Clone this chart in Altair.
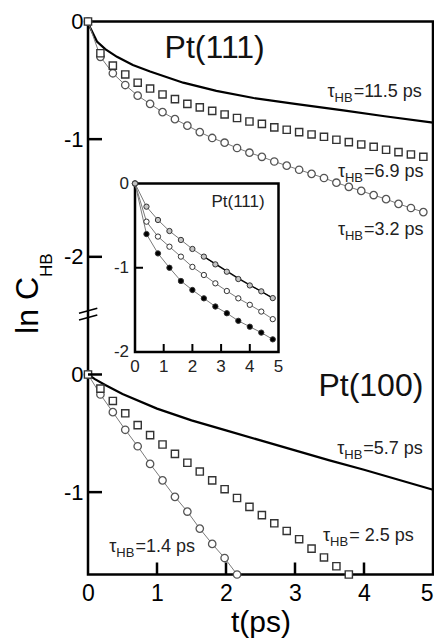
import altair as alt
import pandas as pd

# ------------------------------------------------------------------ data
# Pt(111) panel (top)
t_top = [0.00, 0.18, 0.36, 0.54, 0.72, 0.90, 1.08, 1.26, 1.44, 1.62, 1.80, 1.98, 2.16, 2.34,
         2.52, 2.70, 2.88, 3.06, 3.24, 3.42, 3.60, 3.78, 3.96, 4.14, 4.32, 4.50, 4.68, 4.86]
top_sq_69 = [0.0, -0.27, -0.375, -0.45, -0.52, -0.57, -0.62, -0.66, -0.70, -0.73, -0.76, -0.79,
             -0.82, -0.85, -0.87, -0.90, -0.92, -0.94, -0.96, -0.98, -1.005, -1.025, -1.045,
             -1.065, -1.09, -1.11, -1.13, -1.15]
top_ci_32 = [0.0, -0.30, -0.44, -0.54, -0.63, -0.70, -0.77, -0.83, -0.885, -0.94, -0.99, -1.03,
             -1.075, -1.115, -1.15, -1.19, -1.225, -1.26, -1.295, -1.33, -1.37, -1.405, -1.44,
             -1.475, -1.51, -1.55, -1.585, -1.62]
top_line_t = [0.0, 0.03, 0.08, 0.13, 0.25, 0.42, 0.65, 0.90, 1.38, 1.86, 2.40, 3.00, 3.70, 4.30, 5.00]
top_line_115 = [0.0, -0.05, -0.11, -0.17, -0.235, -0.30, -0.37, -0.425, -0.52, -0.59, -0.65, -0.70,
                -0.755, -0.805, -0.86]

# Pt(100) panel (bottom)
t_bot_sq = [0.00, 0.18, 0.36, 0.54, 0.72, 0.90, 1.08, 1.26, 1.44, 1.62, 1.80, 1.98, 2.16, 2.34,
            2.52, 2.70, 2.88, 3.06, 3.24, 3.42, 3.60, 3.78]
bot_sq_25 = [0.0, -0.12, -0.225, -0.33, -0.43, -0.515, -0.595, -0.675, -0.75, -0.825, -0.90,
             -0.975, -1.05, -1.125, -1.195, -1.265, -1.33, -1.40, -1.48, -1.555, -1.63, -1.70]
t_bot_ci = [0.00, 0.18, 0.36, 0.54, 0.72, 0.90, 1.08, 1.26, 1.44, 1.62, 1.80, 1.98, 2.16]
bot_ci_14 = [0.0, -0.17, -0.32, -0.47, -0.61, -0.76, -0.90, -1.04, -1.165, -1.31, -1.44, -1.56, -1.70]
bot_line_t = [0.0, 0.10, 0.25, 0.50, 1.00, 1.50, 2.00, 2.50, 3.00, 3.50, 4.00, 4.50, 5.00]
bot_line_57 = [0.0, -0.04, -0.09, -0.165, -0.29, -0.39, -0.475, -0.56, -0.645, -0.73, -0.81, -0.895, -0.98]

# inset (Pt(111))
inset_t = [0.0, 0.4, 0.8, 1.2, 1.6, 2.0, 2.4, 2.8, 3.2, 3.6, 4.0, 4.4, 4.8]
inset_gray = [0.0, -0.275, -0.433, -0.564, -0.67, -0.777, -0.868, -0.96, -1.047, -1.134, -1.21, -1.28, -1.36]
inset_white = [0.0, -0.453, -0.63, -0.75, -0.868, -0.99, -1.086, -1.185, -1.276, -1.363, -1.44, -1.52, -1.61]
inset_black = [0.0, -0.60, -0.83, -1.0, -1.157, -1.264, -1.363, -1.46, -1.54, -1.63, -1.70, -1.77, -1.85]
inset_fit_t = [2.4, 3.6, 4.8]
inset_fit_y = [-0.868, -1.125, -1.36]

# annotations
ann_panel = ["Pt(111)", "Pt(111)", "Pt(111)", "Pt(100)", "Pt(100)", "Pt(100)"]
ann_t = [3.85, 4.00, 4.00, 3.99, 3.785, 0.687]
ann_y = [-0.639, -1.319, -1.815, -0.676, -1.415, -1.511]
ann_rest = ["=11.5 ps", "=6.9 ps", "=3.2 ps", "=5.7 ps", "= 2.5 ps", "=1.4 ps"]
panel_names = ["Pt(111)", "Pt(100)"]
panel_t = [1.836, 4.10]
panel_y = [-0.313, -0.184]

x_ticks = [0, 1, 2, 3, 4, 5]
y_tick_panel = ["Pt(111)", "Pt(111)", "Pt(100)", "Pt(100)"]
y_tick_vals = [-1, -2, 0, -1]
inset_y_ticks = [0, -1, -2]
inset_y_labels = ["0", "-1", "-2"]

# ------------------------------------------------------------------ layout constants
FONT = "Liberation Sans, Arial, sans-serif"
W, H = 345, 553
PAD = {"left": 80, "top": 13.5, "right": 1, "bottom": 64}
BREAK = 3.0
Y_MIN = -4.70
IX_RANGE = [47, 190.5]
IY_RANGE = [330.5, 162]
CALC = f"datum.panel == 'Pt(100)' ? datum.lnC - {BREAK} : datum.lnC"

x_axis = alt.Axis(values=x_ticks, format="d", labelFontSize=23, labelFont=FONT, labelColor="black",
                  grid=False, domain=False, ticks=False, tickSize=0, labelPadding=8,
                  labelFlush=False,
                  labelAlign={"condition": {"test": "datum.value == 5", "value": "right"},
                              "value": "center"},
                  title="t(ps)", titleFontSize=30, titleFont=FONT,
                  titleFontWeight="normal", titleColor="black", titleX=W / 2, titleY=56.5,
                  titleBaseline="alphabetic", titleAlign="center")
y_axis = alt.Axis(values=[0, -1, -2, -3, -4],
                  labelExpr=f"datum.value > -2.5 ? '' + datum.value : '' + (datum.value + {BREAK})",
                  labelFontSize=22, labelFont=FONT, labelColor="black", grid=False, domain=False,
                  ticks=False, tickSize=0, labelPadding=5, title="")

X = alt.X("t:Q", scale=alt.Scale(domain=[0, 5], nice=False), axis=x_axis)
Y = alt.Y("yplot:Q", scale=alt.Scale(domain=[Y_MIN, 0], nice=False), axis=y_axis)

rows = []


def add(panel, series, ts, vs):
    for t, v in zip(ts, vs):
        rows.append({"panel": panel, "series": series, "t": t, "lnC": v})


add("Pt(111)", "fit11.5", top_line_t, top_line_115)
add("Pt(111)", "sq6.9", t_top, top_sq_69)
add("Pt(111)", "ci3.2", t_top, top_ci_32)
add("Pt(100)", "fit5.7", bot_line_t, bot_line_57)
add("Pt(100)", "sq2.5", t_bot_sq, bot_sq_25)
add("Pt(100)", "ci1.4", t_bot_ci, bot_ci_14)
main_df = pd.DataFrame(rows)

base = alt.Chart(main_df).transform_calculate(yplot=CALC)


def only(series):
    return alt.FieldOneOfPredicate(field="series", oneOf=series)


fit_lines = base.transform_filter(only(["fit11.5", "fit5.7"])).mark_line(
    color="black", strokeWidth=2.2).encode(x=X, y=Y, detail="series:N")
ci_lines = base.transform_filter(only(["ci3.2", "ci1.4"])).mark_line(
    color="#7a7a7a", strokeWidth=1).encode(x=X, y=Y, detail="series:N")
ci_pts = base.transform_filter(only(["ci3.2", "ci1.4"])).mark_circle(
    size=55, fill="white", stroke="#555555", strokeWidth=1.3, opacity=1).encode(x=X, y=Y)
sq_pts = base.transform_filter(only(["sq6.9", "sq2.5"])).mark_square(
    size=52, fill="white", stroke="#333333", strokeWidth=1.4, opacity=1).encode(x=X, y=Y)

ytick_df = pd.DataFrame({"panel": y_tick_panel, "lnC": y_tick_vals})
yticks = alt.Chart(ytick_df).transform_calculate(yplot=CALC).mark_rule(
    color="black", strokeWidth=2.5).encode(y=Y, x=alt.value(0), x2=alt.value(14))
xtick_df = pd.DataFrame({"t": x_ticks[1:5]})
xticks = alt.Chart(xtick_df).mark_rule(color="black", strokeWidth=2.5).encode(
    x=X, y=alt.value(H), y2=alt.value(H - 12))

ann_df = pd.DataFrame({"panel": ann_panel, "t": ann_t, "lnC": ann_y, "rest": ann_rest})
ann_base = alt.Chart(ann_df).transform_calculate(yplot=CALC)
tau_txt = ann_base.mark_text(text="τ", align="right", baseline="alphabetic", dx=-19,
                             font=FONT, fontSize=18, color="#222222").encode(x=X, y=Y)
hb_txt = ann_base.mark_text(text="HB", align="right", baseline="alphabetic", dx=-1, dy=5,
                            font=FONT, fontSize=13, color="#222222").encode(x=X, y=Y)
rest_txt = ann_base.mark_text(align="left", baseline="alphabetic", font=FONT, fontSize=18,
                              color="#222222").encode(x=X, y=Y, text="rest:N")

panel_df = pd.DataFrame({"panel": panel_names, "t": panel_t, "lnC": panel_y, "name": panel_names})
panel_txt = alt.Chart(panel_df).transform_calculate(yplot=CALC).mark_text(
    align="center", baseline="alphabetic", font=FONT, fontSize=32, color="#111111").encode(
    x=X, y=Y, text="name:N")

one = pd.DataFrame({"k": [0]})
ytitle_main = alt.Chart(one).mark_text(text="ln C", angle=270, align="right", baseline="alphabetic",
                                       font=FONT, fontSize=32, color="black").encode(
    x=alt.value(-50), y=alt.value(255.5))
ytitle_sub = alt.Chart(one).mark_text(text="HB", angle=270, align="left", baseline="alphabetic",
                                      dy=14, font=FONT, fontSize=17, color="black").encode(
    x=alt.value(-50), y=alt.value(255.5))
brk1 = alt.Chart(one).mark_rule(color="black", strokeWidth=1.6).encode(
    x=alt.value(-9), y=alt.value(291.8), x2=alt.value(9.3), y2=alt.value(286.8))
brk2 = alt.Chart(one).mark_rule(color="black", strokeWidth=1.6).encode(
    x=alt.value(-9), y=alt.value(298.5), x2=alt.value(9.3), y2=alt.value(293.5))

main_group = alt.layer(fit_lines, ci_lines, ci_pts, sq_pts, yticks, xticks,
                       tau_txt, hb_txt, rest_txt, panel_txt,
                       ytitle_main, ytitle_sub, brk1, brk2)

# ------------------------------------------------------------------ inset
IX = alt.Scale(domain=[0, 5], range=IX_RANGE, nice=False)
IY = alt.Scale(domain=[-2, 0], range=IY_RANGE, nice=False)

frame = alt.Chart(pd.DataFrame({"x0": [0], "x1": [5], "y0": [-2], "y1": [0]})).mark_rect(
    fill="white", stroke="black", strokeWidth=2.5).encode(
    x=alt.X("x0:Q", scale=IX, axis=None), x2="x1:Q",
    y=alt.Y("y0:Q", scale=IY, axis=None), y2="y1:Q")

irows = []
for name, vals in [("black", inset_black), ("white", inset_white), ("gray", inset_gray)]:
    for t, v in zip(inset_t, vals):
        irows.append({"series": name, "t": t, "lnC": v})
inset_df = pd.DataFrame(irows)
IXe = alt.X("t:Q", scale=IX, axis=None)
IYe = alt.Y("lnC:Q", scale=IY, axis=None)

inset_lines = alt.Chart(inset_df).mark_line(color="#7a7a7a", strokeWidth=1).encode(
    x=IXe, y=IYe, detail="series:N")
inset_fit = alt.Chart(pd.DataFrame({"t": inset_fit_t, "lnC": inset_fit_y})).mark_line(
    color="black", strokeWidth=1.3).encode(x=IXe, y=IYe)
inset_pts = alt.Chart(inset_df).mark_circle(size=28, stroke="#333333", strokeWidth=1,
                                            opacity=1).encode(
    x=IXe, y=IYe,
    fill=alt.Fill("series:N", scale=alt.Scale(domain=["gray", "white", "black"],
                                              range=["#c4c4c4", "#ffffff", "#000000"]),
                  legend=None))

iytick = alt.Chart(pd.DataFrame({"lnC": [-1]})).mark_rule(color="black", strokeWidth=2).encode(
    y=IYe, x=alt.value(IX_RANGE[0]), x2=alt.value(IX_RANGE[0] + 8))
ixtick = alt.Chart(pd.DataFrame({"t": [1, 2, 3, 4]})).mark_rule(color="black", strokeWidth=2).encode(
    x=IXe, y=alt.value(IY_RANGE[0]), y2=alt.value(IY_RANGE[0] - 8))
iylab = alt.Chart(pd.DataFrame({"t": [0, 0, 0], "lnC": inset_y_ticks, "lab": inset_y_labels})).mark_text(
    align="right", baseline="middle", dx=-6, font=FONT, fontSize=17, color="#222222").encode(
    x=IXe, y=IYe, text="lab:N")
ixlab = alt.Chart(pd.DataFrame({"t": x_ticks, "lnC": [-2] * 6, "lab": [str(v) for v in x_ticks]})).mark_text(
    align="center", baseline="middle", dy=15, font=FONT, fontSize=17, color="#222222").encode(
    x=IXe, y=IYe, text="lab:N")
ititle = alt.Chart(pd.DataFrame({"t": [3.59], "lnC": [-0.275]})).mark_text(
    text="Pt(111)", align="center", baseline="alphabetic", font=FONT, fontSize=17,
    color="#222222").encode(x=IXe, y=IYe)

inset_group = alt.layer(frame, inset_lines, inset_fit, inset_pts, iytick, ixtick, iylab, ixlab, ititle)

chart = alt.layer(main_group, inset_group).resolve_scale(
    x="independent", y="independent"
).properties(
    width=W, height=H,
    padding=PAD,
    autosize=alt.AutoSizeParams(type="none"),
).configure_view(stroke="black", strokeWidth=2.5)

chart.save("out.html", embed_options={"renderer": "svg", "actions": False})
